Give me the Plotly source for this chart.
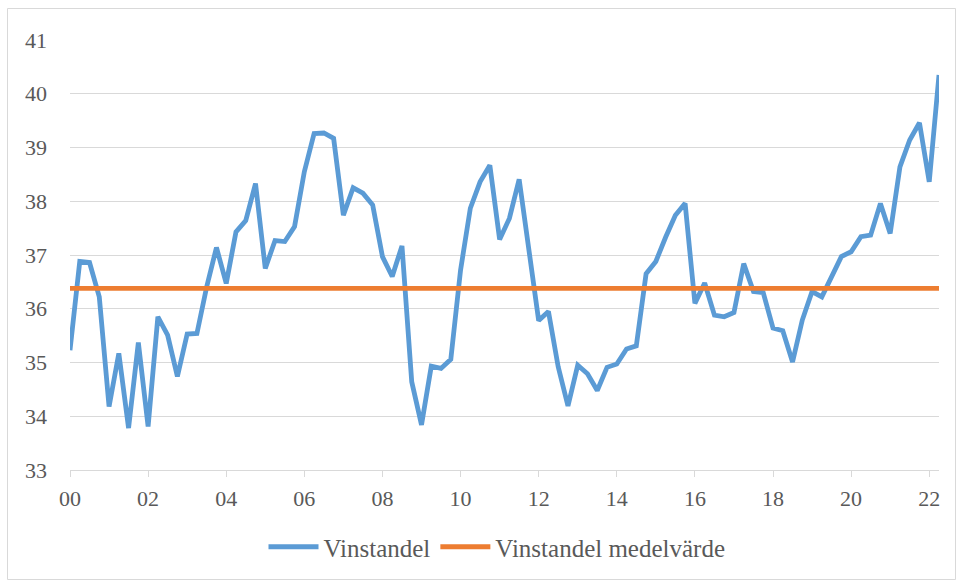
import plotly.graph_objects as go

# Quarterly data, 2000Q1 .. 2022Q2
vinstandel = [
    35.23, 36.88, 36.86, 36.22, 34.18, 35.17, 33.78, 35.37,
    33.81, 35.85, 35.51, 34.74, 35.53, 35.54, 36.41, 37.14,
    36.47, 37.43, 37.64, 38.33, 36.75, 37.27, 37.25, 37.53,
    38.55, 39.26, 39.27, 39.17, 37.74, 38.25, 38.15, 37.93,
    36.97, 36.60, 37.17, 34.64, 33.84, 34.93, 34.89, 35.06,
    36.72, 37.87, 38.36, 38.67, 37.29, 37.68, 38.41, 37.09,
    35.78, 35.95, 34.92, 34.19, 34.95, 34.79, 34.48, 34.91,
    34.97, 35.25, 35.31, 36.65, 36.88, 37.33, 37.74, 37.96,
    36.10, 36.48, 35.88, 35.85, 35.93, 36.84, 36.32, 36.30,
    35.64, 35.59, 35.01, 35.79, 36.32, 36.22, 36.60, 36.97,
    37.06, 37.34, 37.37, 37.96, 37.40, 38.64, 39.14, 39.46,
    38.36, 40.35,
]
medelvarde = 36.38
tick_labels = ["00", "02", "04", "06", "08", "10", "12", "14", "16", "18", "20", "22"]
y_ticks = [33, 34, 35, 36, 37, 38, 39, 40, 41]

n = len(vinstandel)
xs = list(range(n))

fig = go.Figure()
fig.add_trace(go.Scatter(
    x=xs, y=vinstandel, mode="lines", name="Vinstandel",
    line=dict(color="#5B9BD5", width=4.8),
))
fig.add_trace(go.Scatter(
    x=xs, y=[medelvarde] * n, mode="lines", name="Vinstandel medelvärde",
    line=dict(color="#ED7D31", width=4.8),
))

L, R, T, B = 70, 17, 40, 110
W, H = 956, 580
pw = W - L - R
ph = H - T - B

fig.update_layout(
    width=W, height=H,
    margin=dict(l=L, r=R, t=T, b=B, autoexpand=False),
    paper_bgcolor="white", plot_bgcolor="white",
    font=dict(family="Liberation Serif, Times New Roman, serif", size=22, color="#595959"),
    showlegend=True,
    legend=dict(
        orientation="h", x=(497 - L) / pw, xanchor="center",
        y=(H - B - 547) / ph, yanchor="middle",
        font=dict(size=25, color="#595959"),
        itemwidth=50,
        bgcolor="rgba(0,0,0,0)",
    ),
    shapes=[dict(
        type="rect", xref="paper", yref="paper",
        x0=(7.5 - L) / pw, x1=(955.5 - L) / pw,
        y0=(H - B - 579.5) / ph, y1=(H - B - 8.5) / ph,
        line=dict(color="#D9D9D9", width=1), fillcolor="rgba(0,0,0,0)",
        layer="below",
    )],
)

fig.update_xaxes(
    range=[0, n - 1],
    tickmode="array",
    tickvals=[i * 8 for i in range(len(tick_labels))],
    ticktext=tick_labels,
    showgrid=False, zeroline=False,
    showline=True, linecolor="#D9D9D9", linewidth=1.3,
    ticks="outside", ticklen=6, tickcolor="#D9D9D9", tickwidth=1.3,
    tickfont=dict(size=22, color="#595959"),
    ticklabelstandoff=2,
)
fig.update_yaxes(
    range=[33, 41],
    tickmode="array", tickvals=y_ticks,
    showgrid=True, gridcolor="#D9D9D9", gridwidth=1.3,
    zeroline=False, showline=False, ticks="",
    tickfont=dict(size=22, color="#595959"),
    ticklabelstandoff=22,
)

fig.write_html(
    "out.html",
    config={"displayModeBar": False},
    post_script="document.body.style.margin='0';document.body.style.padding='0';",
)
